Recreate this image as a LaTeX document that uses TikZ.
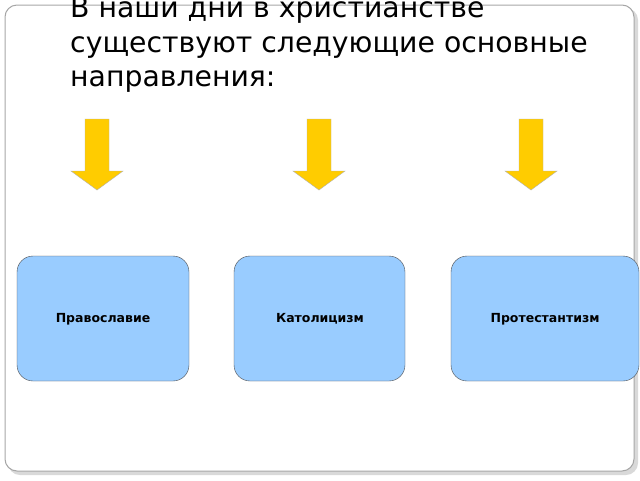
\documentclass[tikz,border=0pt]{standalone}
\usepackage{fontspec}
\setmainfont{DejaVu Sans}
\begin{document}
\begin{tikzpicture}[x=1pt,y=-1pt,
  frame/.style={draw=gray!70,rounded corners=12pt,line width=1pt,fill=white},
  box/.style={draw=black!70,fill={rgb,255:red,153;green,204;blue,255},rounded corners=16pt},
  arr/.style={draw=gray!60,fill={rgb,255:red,255;green,204;blue,0}},
  ttl/.style={anchor=base west,inner sep=0pt,font=\fontsize{28.3}{34}\selectfont},
  lbl/.style={font=\bfseries\fontsize{12.5}{15}\selectfont}]
\useasboundingbox (0,0) rectangle (640,480);
\fill[gray!30,rounded corners=12pt] (8,8) rectangle (638,475);
\draw[frame] (5,5) rectangle (634,471);
\node[ttl] (t) at (70,17) {В наши дни в христианстве};
\node[ttl] (t2) at (70,52) {существуют следующие основные};
\node[ttl] (t3) at (70,86) {направления:};
\foreach \n/\c in {a1/97,a2/319,a3/531}{
  \draw[arr] (\c-12,119) -- (\c+12,119) -- (\c+12,171) -- (\c+26,171) -- (\c,190) -- (\c-26,171) -- (\c-12,171) -- cycle;
  \coordinate (\n) at (\c,190);
}
\draw[box] (17,256) rectangle (189,381); \node[lbl] (b1) at (103,319) {Православие};
\draw[box] (234,256) rectangle (405,381); \node[lbl] (b2) at (320,319) {Католицизм};
\draw[box] (451,256) rectangle (639,381); \node[lbl] (b3) at (545,319) {Протестантизм};
\end{tikzpicture}
\end{document}
